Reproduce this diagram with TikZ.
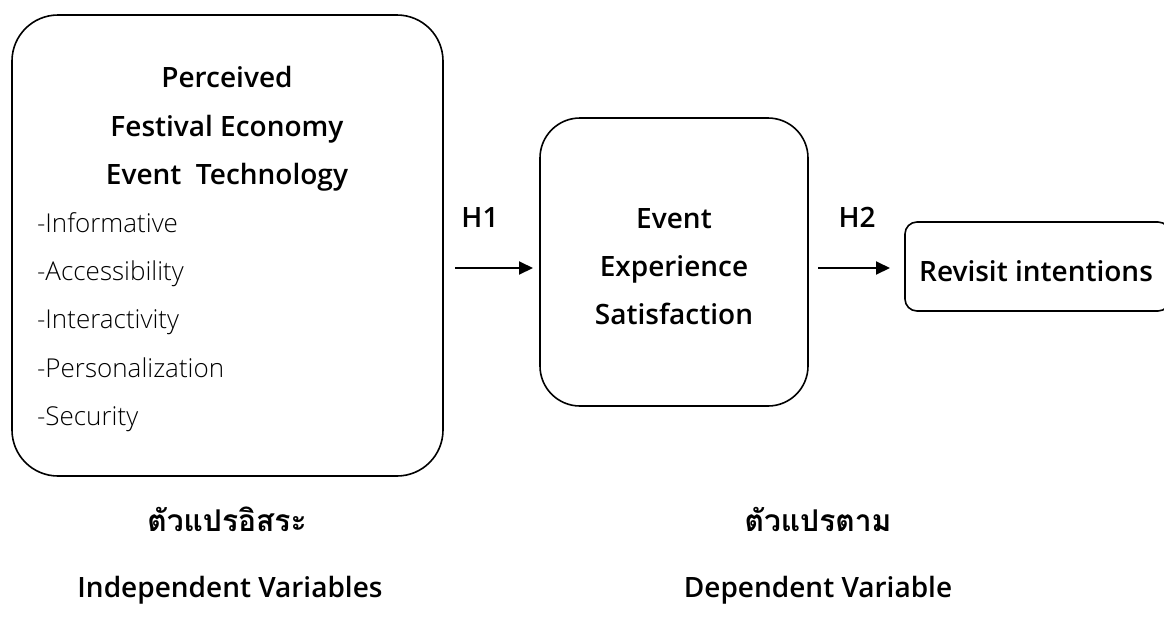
\documentclass[tikz,border=0pt]{standalone}
\usepackage{fontspec}
\setmainfont{Open Sans}[BoldFont={Open Sans Semibold}]
\newfontfamily\lightfont{Open Sans Light}
\newfontfamily\thaifont[Script=Thai]{Loma}
\usetikzlibrary{positioning,arrows.meta}

\begin{document}
\begin{tikzpicture}[x=0.5pt,y=-0.5pt,
	varbox/.style={draw,thick,rounded corners=#1,inner sep=0pt,outer sep=0pt},
	head/.style={font=\bfseries\fontsize{14}{16}\selectfont,anchor=base},
	item/.style={font=\lightfont\fontsize{13}{15}\selectfont,anchor=base west},
	thai/.style={font=\thaifont\bfseries\fontsize{15}{17}\selectfont,anchor=base},
	link/.style={-{Triangle[length=7pt,width=6.5pt]},line width=1pt}]
		
		\useasboundingbox (0,0) rectangle (1164,617);
		\clip (0,0) rectangle (1164,617);
		
		% boxes
		\node[varbox=23pt,minimum width=215.5pt,minimum height=230.5pt]
		(ind) at (227.5,245.5) {};
		
		\node[varbox=20pt,minimum width=134pt,minimum height=144pt]
		(mid) at (674,262) {};
		
		\node[varbox=6pt,minimum width=132.5pt,minimum height=44.5pt]
		(rev) at (1037.5,266.5) {};
		
		% independent variables
		\node[head] (perc) at (227,87)
		{Perceived};
		
		\node[head] (fest) at (227,136)
		{Festival Economy};
		
		\node[head] (tech) at (227,184)
		{Event\ \ Technology};
		
		\node[item] (info) at (30,232)
		{-Informative};
		
		\node[item] (acc) at (30,280)
		{-Accessibility};
		
		\node[item] (inter) at (30,328)
		{-Interactivity};
		
		\node[item] (pers) at (30,377)
		{-Personalization};
		
		\node[item] (sec) at (30,425)
		{-Security};
		
		% mediator and outcome
		\node[head] (ev) at (674,228)
		{Event};
		
		\node[head] (exp) at (674,276)
		{Experience};
		
		\node[head] (sat) at (674,324)
		{Satisfaction};
		
		\node[head] (revt) at (1036,281)
		{Revisit intentions};
		
		% hypotheses
		\node[head] (h1) at (480,227)
		{H1};
		
		\node[head] (h2) at (857,227)
		{H2};
		
		\coordinate (a1) at (455,268);
		\coordinate (a2) at (818,268);
		
		\draw[link,shorten >=3.5pt]
		(a1) -- (a1 -| mid.west);
		
		\draw[link,shorten >=7.5pt]
		(a2) -- (a2 -| rev.west);
		
		% captions
		\node[thai] (thind) at (227,531)
		{ตัวแปรอิสระ};
		
		\node[thai] (thdep) at (818,531)
		{ตัวแปรตาม};
		
		\node[head] (capind) at (230,597)
		{Independent Variables};
		
		\node[head] (capdep) at (818,597)
		{Dependent Variable};
		
	\end{tikzpicture}
\end{document}
